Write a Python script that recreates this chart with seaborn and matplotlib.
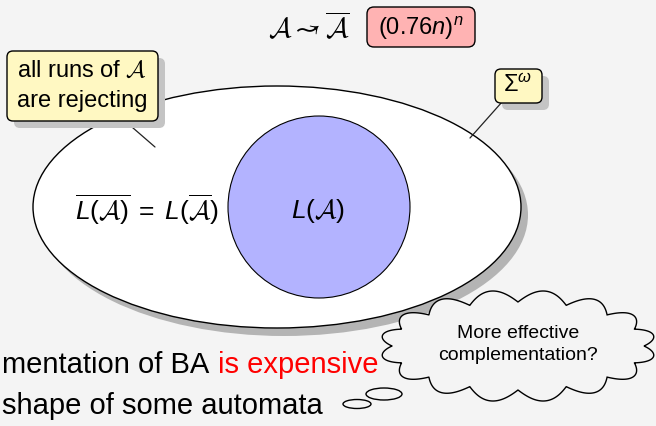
import numpy as np
import matplotlib
matplotlib.use('Agg')
import matplotlib.pyplot as plt
import matplotlib.patches as mpatches
import seaborn as sns

# texts of the diagram
top_formula = r'$\mathcal{A} \rightsquigarrow \overline{\mathcal{A}}$'
top_cost = r'$(0.76n)^n$'
callout_lines = [r'all runs of $\mathcal{A}$', 'are rejecting']
sigma_label = r'$\Sigma^\omega$'
complement_label = r'$\overline{L(\mathcal{A})}\;=\;L(\overline{\mathcal{A}})$'
language_label = r'$L(\mathcal{A})$'
cloud_lines = ['More effective', 'complementation?']
body_black = ['mentation of BA ', 'shape of some automata']
body_red = 'is expensive'

sns.set_theme(style='white')
plt.rcParams['font.family'] = ['Liberation Sans', 'DejaVu Sans']
plt.rcParams['text.color'] = 'black'
plt.rcParams['mathtext.fontset'] = 'custom'
plt.rcParams['mathtext.rm'] = 'Liberation Sans'
plt.rcParams['mathtext.it'] = 'Liberation Sans:italic'
plt.rcParams['mathtext.sf'] = 'Liberation Sans'
plt.rcParams['mathtext.cal'] = 'cmsy10'

bg = '#f4f4f4'
fig = plt.figure(figsize=(6.56, 4.26), dpi=100, facecolor=bg)
ax = fig.add_axes([0, 0, 1, 1])
ax.set_facecolor(bg)
ax.set_xlim(0, 656)
ax.set_ylim(426, 0)
ax.axis('off')

# big ellipse (Sigma^omega) with shadow
ax.add_patch(mpatches.Ellipse((284, 215), 488, 242, facecolor='#b4b4b4', edgecolor='none', zorder=1))
ax.add_patch(mpatches.Ellipse((277, 207), 488, 242, facecolor='white', edgecolor='black', lw=1, zorder=2))

# L(A) circle
ax.add_patch(mpatches.Circle((319, 207), 91, facecolor='#b3b3ff', edgecolor='black', lw=0.8, zorder=3))
ax.text(318, 211, language_label, fontsize=19, ha='center', va='center', zorder=7)
ax.text(147, 210, complement_label, fontsize=19, ha='center', va='center', zorder=7)

# top line
ax.text(309, 28, top_formula, fontsize=20, ha='center', va='center', zorder=7)
ax.add_patch(mpatches.FancyBboxPatch((367, 7), 108, 40, boxstyle='round,pad=0,rounding_size=7',
                                     facecolor='#ffb3b3', edgecolor='black', lw=1, zorder=6))
ax.text(421, 28, top_cost, fontsize=17, ha='center', va='center', zorder=7)


def callout(x, y, w, h):
    ax.add_patch(mpatches.FancyBboxPatch((x + 7, y + 7), w, h, boxstyle='round,pad=0,rounding_size=6',
                                         facecolor='#c4c4c4', edgecolor='none', zorder=5))
    ax.add_patch(mpatches.FancyBboxPatch((x, y), w, h, boxstyle='round,pad=0,rounding_size=6',
                                         facecolor='#fff8c2', edgecolor='black', lw=1, zorder=6))


# callout: all runs rejecting
ax.plot([125, 155], [121, 147], color='#222222', lw=0.9, zorder=4)
callout(7, 51, 151, 70)
ax.text(82, 71, callout_lines[0], fontsize=17, ha='center', va='center', zorder=7)
ax.text(82, 101, callout_lines[1], fontsize=17, ha='center', va='center', zorder=7)

# callout: Sigma^omega
ax.plot([502, 470], [102, 138], color='#222222', lw=0.9, zorder=4)
callout(495, 69, 47, 34)
ax.text(518, 86, sigma_label, fontsize=17, ha='center', va='center', zorder=7)

# thought cloud
cx, cy, a, b, d, k = 518, 346, 126, 44, 12, 16
t = np.linspace(0, 2 * np.pi, 3000)
s = np.abs(np.sin(k * t / 2))
ax.fill(cx + (a + d * s) * np.cos(t), cy + (b + d * s) * np.sin(t),
        facecolor=bg, edgecolor='black', lw=1, zorder=8)
ax.add_patch(mpatches.Ellipse((384, 394), 36, 12, facecolor=bg, edgecolor='black', lw=1, zorder=8))
ax.add_patch(mpatches.Ellipse((357, 404), 28, 9, facecolor=bg, edgecolor='black', lw=1, zorder=8))
ax.text(518, 333, cloud_lines[0], fontsize=14, ha='center', va='center', zorder=9)
ax.text(518, 355, cloud_lines[1], fontsize=14, ha='center', va='center', zorder=9)

# body text
ax.text(2, 373, body_black[0], fontsize=21, ha='left', va='baseline', zorder=7)
ax.text(378, 373, body_red, fontsize=21, color='red', ha='right', va='baseline', zorder=7)
ax.text(2, 414, body_black[1], fontsize=21, ha='left', va='baseline', zorder=7)

fig.savefig('out.png', dpi=100, facecolor=bg)
